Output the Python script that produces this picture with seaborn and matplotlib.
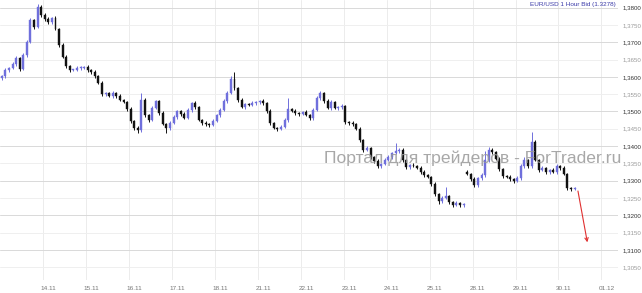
import numpy as np
import pandas as pd
import matplotlib
matplotlib.use("Agg")
import matplotlib.pyplot as plt
from matplotlib.ticker import MultipleLocator, FuncFormatter
import seaborn as sns

# ---- data: EUR/USD, 2-hour candles ----
closes = [
    1.3602, 1.3620, 1.3626, 1.3637, 1.3654, 1.3623, 1.3663, 1.3701, 1.3764, 1.3744,
    1.3802, 1.3779, 1.3767, 1.3758, 1.3770, 1.3738, 1.3692, 1.3657, 1.3631, 1.3620,
    1.3620, 1.3626, 1.3626, 1.3628, 1.3620, 1.3614, 1.3602, 1.3582, 1.3550, 1.3553,
    1.3545, 1.3553, 1.3545, 1.3533, 1.3527, 1.3507, 1.3472, 1.3452, 1.3446, 1.3533,
    1.3490, 1.3475, 1.3510, 1.3530, 1.3495, 1.3464, 1.3452, 1.3467, 1.3484, 1.3501,
    1.3493, 1.3481, 1.3504, 1.3524, 1.3513, 1.3475, 1.3467, 1.3464, 1.3461, 1.3472,
    1.3490, 1.3504, 1.3530, 1.3553, 1.3594, 1.3568, 1.3533, 1.3513, 1.3521, 1.3519,
    1.3524, 1.3527, 1.3530, 1.3524, 1.3501, 1.3467, 1.3452, 1.3449, 1.3455, 1.3475,
    1.3507, 1.3501, 1.3495, 1.3493, 1.3498, 1.3490, 1.3481, 1.3504, 1.3539, 1.3553,
    1.3530, 1.3510, 1.3527, 1.3510, 1.3513, 1.3516, 1.3469, 1.3467, 1.3464, 1.3449,
    1.3417, 1.3389, 1.3394, 1.3368, 1.3357, 1.3342, 1.3348, 1.3360, 1.3368, 1.3380,
    1.3386, 1.3389, 1.3360, 1.3339, 1.3345, 1.3342, 1.3337, 1.3325, 1.3316, 1.3311,
    1.3290, 1.3261, 1.3241, 1.3250, 1.3256, 1.3238, 1.3230, 1.3235, 1.3230, 1.3232,
    1.3319, 1.3305, 1.3287, 1.3308, 1.3316, 1.3360, 1.3389, 1.3383, 1.3363, 1.3334,
    1.3313, 1.3311, 1.3305, 1.3299, 1.3308, 1.3342, 1.3360, 1.3342, 1.3412, 1.3360,
    1.3331, 1.3337, 1.3325, 1.3331, 1.3325, 1.3342, 1.3337, 1.3319, 1.3279, 1.3276, 1.3278,
]
# opens that differ from previous close (first bar and the weekend gap)
gap_opens = {0: 1.3597, 130: 1.3325}

wick_up_pips = [
    4, 5, 3, 6, 5, 4, 6, 5, 7, 4,
    8, 5, 4, 6, 3, 5, 4, 6, 5, 4,
    3, 5, 4, 3, 5, 4, 6, 4, 5, 3,
    4, 6, 3, 5, 4, 3, 5, 4, 6, 20,
    5, 4, 6, 4, 3, 5, 4, 6, 5, 4,
    3, 5, 6, 4, 5, 3, 4, 5, 3, 6,
    4, 5, 6, 5, 8, 20, 4, 5, 3, 4,
    5, 3, 4, 6, 4, 5, 3, 4, 5, 6,
    32, 4, 5, 3, 4, 6, 4, 5, 6, 7,
    4, 5, 6, 4, 3, 5, 4, 3, 5, 4,
    5, 4, 6, 3, 4, 5, 4, 6, 5, 4,
    23, 4, 5, 3, 4, 6, 3, 4, 5, 4,
    3, 5, 4, 6, 26, 4, 3, 5, 4, 3,
    6, 4, 5, 4, 6, 25, 8, 5, 4, 5,
    3, 4, 5, 4, 6, 5, 7, 4, 29, 6,
    4, 5, 3, 4, 5, 6, 4, 5, 3, 4, 3,
]
wick_dn_pips = [
    5, 4, 6, 3, 5, 6, 4, 5, 3, 6,
    4, 5, 6, 4, 5, 3, 6, 4, 5, 7,
    4, 3, 5, 4, 6, 5, 4, 3, 6, 5,
    4, 5, 6, 3, 4, 5, 4, 6, 9, 4,
    5, 6, 4, 3, 5, 4, 15, 5, 4, 6,
    5, 4, 3, 6, 5, 4, 7, 5, 6, 4,
    3, 5, 4, 6, 4, 5, 6, 4, 5, 3,
    4, 5, 6, 4, 5, 6, 4, 5, 3, 4,
    5, 4, 6, 5, 3, 4, 6, 5, 4, 5,
    6, 4, 5, 3, 6, 5, 4, 6, 5, 4,
    5, 6, 4, 5, 6, 4, 5, 4, 3, 5,
    4, 5, 6, 4, 5, 3, 4, 5, 6, 4,
    5, 6, 7, 5, 4, 5, 6, 4, 5, 6,
    4, 6, 5, 4, 5, 4, 5, 6, 4, 5,
    5, 4, 6, 5, 4, 5, 4, 6, 5, 4,
    5, 4, 6, 5, 4, 5, 6, 4, 7, 5, 4,
]
day_labels = ["14.11", "15.11", "16.11", "17.11", "18.11", "21.11", "22.11",
              "23.11", "24.11", "25.11", "28.11", "29.11", "30.11", "01.12"]
bars_per_day = 12
title_text = "EUR/USD 1 Hour Bid (1.3278)"
last_price = 1.3278
target_price = 1.3114
watermark = "Портал для трейдеров - ForTrader.ru"

# ---- build table ----
n = len(closes)
assert len(wick_up_pips) == n and len(wick_dn_pips) == n
opens = [gap_opens.get(i, closes[i - 1] if i > 0 else closes[0]) for i in range(n)]
df = pd.DataFrame({"bar": np.arange(n) + 0.5, "open": opens, "close": closes})
df["high"] = df[["open", "close"]].max(axis=1) + np.array(wick_up_pips) * 1e-4
df["low"] = df[["open", "close"]].min(axis=1) - np.array(wick_dn_pips) * 1e-4
df["up"] = df["close"] >= df["open"]

# ---- style ----
sns.set_theme(style="white")
plt.rcParams["font.family"] = ["Liberation Sans", "DejaVu Sans"]

W, H = 642, 293
fig = plt.figure(figsize=(W / 100, H / 100), dpi=100)
ax = fig.add_axes([0, 13 / H, 618 / W, 1 - 13 / H])
ax.set_facecolor("white")

up_col = "#6f6fdc"
dn_col = "#111111"
cols = np.where(df["up"], up_col, dn_col)

ax.vlines(df["bar"], df["low"], df["high"], colors=cols, linewidth=0.7, zorder=3)
body_bottom = df[["open", "close"]].min(axis=1)
body_h = (df["close"] - df["open"]).abs().clip(lower=0.00012)
ax.bar(df["bar"], body_h, bottom=body_bottom, width=0.55, color=cols,
       edgecolor=cols, linewidth=0.3, zorder=4)

ax.set_xlim(0, 618 / 3.58)
ax.set_ylim(1.3013, 1.3822)

# y axis on the right
ax.yaxis.tick_right()
ax.yaxis.set_major_locator(MultipleLocator(0.01))
ax.yaxis.set_minor_locator(MultipleLocator(0.005))
fmt = FuncFormatter(lambda v, p: f"{v:.4f}".replace(".", ","))
ax.yaxis.set_major_formatter(fmt)
ax.yaxis.set_minor_formatter(fmt)
ax.tick_params(axis="y", which="major", length=0, pad=3, labelsize=4.4,
               labelcolor="#333333")
ax.tick_params(axis="y", which="minor", length=0, pad=3, labelsize=4.4,
               labelcolor="#9a9a9a")
ax.grid(axis="y", which="major", color="#d9d9d9", linewidth=0.7, zorder=0)
ax.grid(axis="y", which="minor", color="#efefef", linewidth=0.7, zorder=0)

# x axis: day starts
day_starts = [bars_per_day * (i + 1) for i in range(len(day_labels))]
ax.set_xticks(day_starts, minor=True)
ax.set_xticks([d + 1.5 for d in day_starts])
ax.set_xticklabels(day_labels)
ax.tick_params(axis="x", which="both", length=0, pad=4, labelsize=4.6,
               labelcolor="#777777")
ax.grid(axis="x", which="minor", color="#ececec", linewidth=0.7, zorder=0)
ax.grid(axis="x", which="major", visible=False)

for s in ax.spines.values():
    s.set_visible(False)

# title
ax.text(616 / 618, 1 - 2 / 280, title_text, transform=ax.transAxes,
        ha="right", va="top", fontsize=4.6, color="#3a3aa8")

# forecast arrow
ax.annotate("", xy=(164.2, target_price), xytext=(n + 0.3, last_price),
            arrowprops=dict(arrowstyle="->", color="#e03030", lw=0.8,
                            mutation_scale=6), zorder=5)

# watermark
fig.text(324 / W, 1 - 158 / H, watermark, ha="left", va="center",
         fontsize=12.6, color="#999999", alpha=0.85,
         family=["Liberation Sans", "DejaVu Sans"])

fig.savefig("out.png", dpi=100)
